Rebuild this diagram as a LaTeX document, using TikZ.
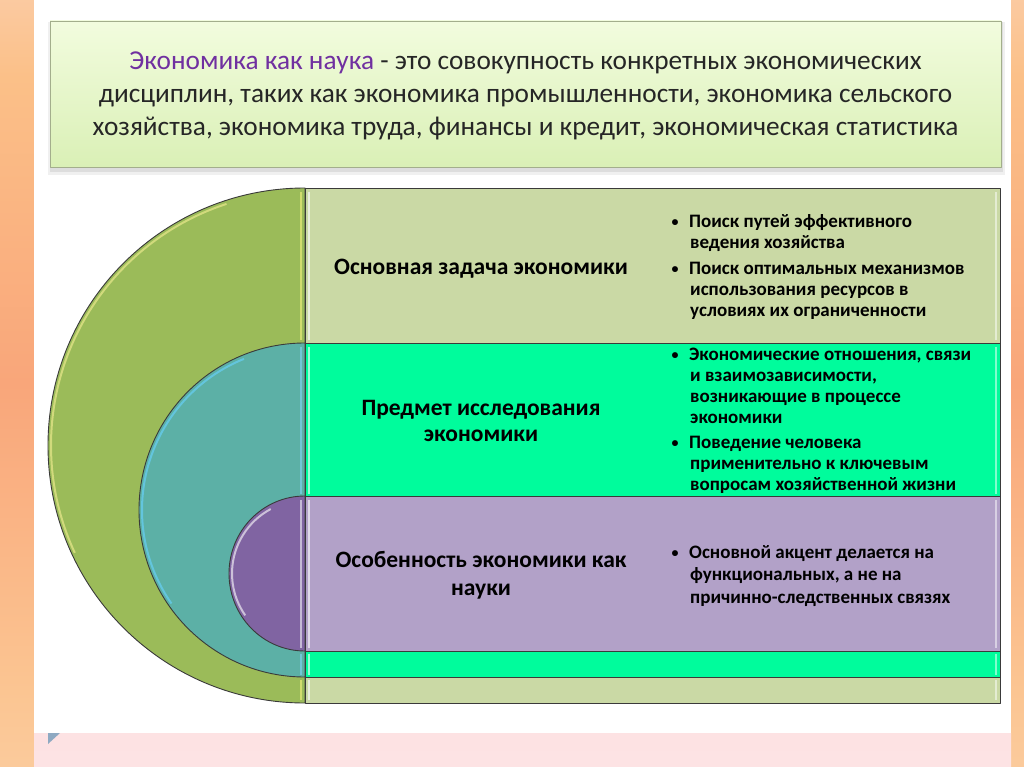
\documentclass[tikz,border=0pt]{standalone}
\usepackage{fontspec}
\setmainfont{Carlito}
\definecolor{peachT}{HTML}{FBEDE2}
\definecolor{pinkA}{HTML}{FCE3E0}
\definecolor{orangeA}{HTML}{FBC088}
\definecolor{orangeB}{HTML}{F9A67A}
\definecolor{orangeC}{HTML}{FBC592}
\definecolor{peachB}{HTML}{FDDAB8}
\definecolor{pinkB}{HTML}{FDE3E4}
\definecolor{bgpink}{HTML}{FDE2E3}
\definecolor{titleT}{HTML}{F2FCDE}
\definecolor{titleB}{HTML}{DAF0B6}
\definecolor{titleedge}{HTML}{A3AE8C}
\definecolor{purpletxt}{HTML}{7030A0}
\definecolor{txt}{HTML}{262626}
\definecolor{olive}{HTML}{9BBB59}
\definecolor{oliveL}{HTML}{CAD9A5}
\definecolor{teal}{HTML}{5CB0A6}
\definecolor{spring}{HTML}{00FC9C}
\definecolor{violet}{HTML}{8064A2}
\definecolor{lavender}{HTML}{B2A1C8}
\definecolor{edge}{HTML}{3A3A3A}
\definecolor{tri}{HTML}{8EA9C2}
\pgfdeclareverticalshading{leftstrip}{100bp}{color(0bp)=(pinkB); color(10bp)=(peachB); color(30bp)=(orangeC); color(50bp)=(orangeB); color(70bp)=(orangeA); color(88bp)=(pinkA); color(100bp)=(peachT)}
\pgfdeclareverticalshading{bottomstrip}{100bp}{color(0bp)=(pinkB); color(100bp)=(bgpink)}
\newcommand{\bul}{\makebox[17pt][l]{\hspace{-0.5pt}\raisebox{1pt}{\fontsize{14}{14}\selectfont•}}}
\tikzset{
  shapeedge/.style={draw=edge, line width=0.9pt},
  hilite/.style={draw=white, opacity=0.6, line width=1.6pt},
  label/.style={inner sep=0pt, anchor=base, text=black, font=\fontsize{23.5}{26}\selectfont\bfseries},
  bullet/.style={inner sep=0pt, anchor=base west, text=black, font=\fontsize{19}{21.3}\selectfont\bfseries},
}
\begin{document}
\begin{tikzpicture}[x=1pt,y=-1pt,line join=round]
\useasboundingbox (0,0) rectangle (1024,767);
% background
\fill[bgpink] (0,0) rectangle (1024,767);
\shade[shading=leftstrip] (0,0) rectangle (34,767);
\shade[shading=leftstrip] (1011,0) rectangle (1024,767);
\shade[shading=bottomstrip] (34,733) rectangle (1011,767);
\fill[white] (34,0) rectangle (1011,733);
\fill[tri] (48,733) -- (60,733) -- (48,744) -- cycle;
% title box
\fill[black, opacity=0.06] (48,22) rectangle (1005,175);
\fill[black, opacity=0.08] (50,22) rectangle (1003,172);
\shade[top color=titleT, bottom color=titleB, draw=titleedge, line width=0.8pt] (50,21) rectangle (1001,167);
\node[name=title, inner sep=0pt, anchor=base, font=\fontsize{27.3}{33}\selectfont, text=txt] at (525.5,70)
  {\parbox[t]{940pt}{\centering\textcolor{purpletxt}{Экономика как наука} - это совокупность конкретных экономических\\
  дисциплин, таких как экономика промышленности, экономика сельского\\
  хозяйства, экономика труда, финансы и кредит, экономическая статистика}};
% outer level
\path[shapeedge, fill=olive] (305,188) arc[start angle=90, end angle=270, x radius=257pt, y radius=257.5pt] -- cycle;
\path[shapeedge, fill=oliveL] (305,188) rectangle (1000,703);
\draw[draw=white!55!yellow!70!olive, opacity=0.75, line width=2pt] (305,445.5) ++(108:254pt) arc[start angle=108, end angle=205, radius=254pt];
\draw[draw=white!50!yellow, opacity=0.55, line width=1.6pt] (301,192) -- (301,340) (301,680) -- (301,700);
\draw[hilite] (309,192) -- (309,340) (309,680) -- (309,700);
% middle level
\path[shapeedge, fill=teal] (305,343) arc[start angle=90, end angle=270, x radius=166pt, y radius=167pt] -- cycle;
\path[shapeedge, fill=spring] (305,343) rectangle (1000,677);
\draw[draw=white!40!cyan, opacity=0.7, line width=2pt] (305,510) ++(112:163pt) arc[start angle=112, end angle=215, radius=163pt];
\draw[draw=white!50!cyan, opacity=0.6, line width=1.6pt] (301,347) -- (301,494) (301,654) -- (301,675);
\draw[hilite] (309,347) -- (309,494) (309,654) -- (309,675);
\draw[hilite, opacity=0.5] (996,347) -- (996,494) (996,654) -- (996,675);
% inner level
\path[shapeedge, fill=violet] (305,496) arc[start angle=90, end angle=270, x radius=76pt, y radius=77.5pt] -- cycle;
\path[shapeedge, fill=lavender] (305,496) rectangle (1000,651);
\draw[draw=white, opacity=0.6, line width=2pt] (305,573.5) ++(118:73pt) arc[start angle=118, end angle=215, radius=73pt];
\draw[draw=white, opacity=0.55, line width=1.6pt] (301,500) -- (301,648);
\draw[hilite] (309,500) -- (309,648);
\draw[hilite, opacity=0.5] (996,500) -- (996,648) (996,192) -- (996,340) (996,680) -- (996,700);
% labels
\node[label, name=lab1] at (481,274) {Основная задача экономики};
\node[label, name=lab2] at (481,415) {\parbox[t]{340pt}{\centering Предмет исследования\\экономики}};
\node[label, name=lab3] at (481,567) {\parbox[t]{340pt}{\baselineskip=28pt\centering Особенность экономики как\\науки}};
% bullets
\node[bullet, name=b1] at (672,227) {\parbox[t]{340pt}{\hangindent=18pt\hangafter=1 \bul Поиск путей эффективного\\ведения хозяйства}};
\node[bullet, name=b2] at (672,274) {\parbox[t]{340pt}{\hangindent=18pt\hangafter=1 \bul Поиск оптимальных механизмов\\использования ресурсов в\\условиях их ограниченности}};
\node[bullet, name=b3] at (672,360) {\parbox[t]{340pt}{\hangindent=18pt\hangafter=1 \bul Экономические отношения, связи\\и взаимозависимости,\\возникающие в процессе\\экономики}};
\node[bullet, name=b4] at (672,448) {\parbox[t]{340pt}{\hangindent=18pt\hangafter=1 \bul Поведение человека\\применительно к ключевым\\вопросам хозяйственной жизни}};
\node[bullet, name=b5] at (672,558) {\parbox[t]{340pt}{\baselineskip=22.5pt\hangindent=18pt\hangafter=1 \bul Основной акцент делается на\\функциональных, а не на\\причинно-следственных связях}};
\end{tikzpicture}
\end{document}
